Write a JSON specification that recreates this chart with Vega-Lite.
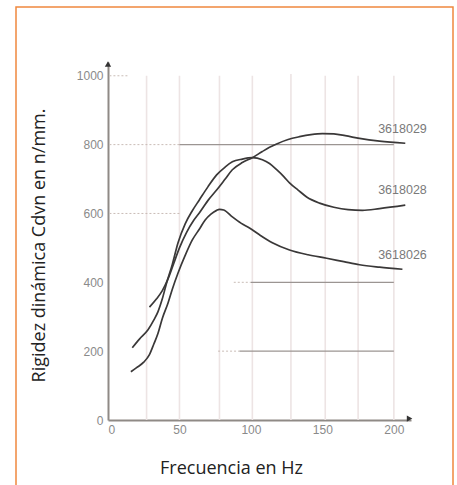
{
  "$schema": "https://vega.github.io/schema/vega-lite/v6.json",
  "width": 437,
  "height": 493,
  "autosize": {"type": "none"},
  "padding": {"left": 16, "top": 7, "right": 4, "bottom": 0},
  "background": "white",
  "config": {
    "view": {"stroke": "#f0883e", "strokeWidth": 1.5},
    "axis": {
      "grid": false,
      "ticks": false,
      "domainColor": "#8f8a86",
      "domainWidth": 2,
      "labelColor": "#8a8a8a",
      "labelFont": "Liberation Sans",
      "labelFontSize": 12,
      "titleFont": "Open Sans",
      "titleFontSize": 18,
      "titleFontWeight": "normal",
      "titleColor": "#222222"
    }
  },
  "datasets": {
    "curves": [
      {"serie": "3618026", "x": 16, "y": 140}, {"serie": "3618026", "x": 20, "y": 152}, {"serie": "3618026", "x": 25, "y": 168}, {"serie": "3618026", "x": 29, "y": 190}, {"serie": "3618026", "x": 32, "y": 220}, {"serie": "3618026", "x": 35, "y": 252}, {"serie": "3618026", "x": 38, "y": 295}, {"serie": "3618026", "x": 42, "y": 340}, {"serie": "3618026", "x": 45, "y": 380}, {"serie": "3618026", "x": 49, "y": 427}, {"serie": "3618026", "x": 54, "y": 478}, {"serie": "3618026", "x": 59, "y": 523}, {"serie": "3618026", "x": 64, "y": 555}, {"serie": "3618026", "x": 68, "y": 581}, {"serie": "3618026", "x": 72, "y": 598}, {"serie": "3618026", "x": 76, "y": 609}, {"serie": "3618026", "x": 78, "y": 612}, {"serie": "3618026", "x": 81, "y": 610}, {"serie": "3618026", "x": 87, "y": 590}, {"serie": "3618026", "x": 93, "y": 572}, {"serie": "3618026", "x": 99, "y": 558}, {"serie": "3618026", "x": 106, "y": 538}, {"serie": "3618026", "x": 115, "y": 515}, {"serie": "3618026", "x": 127, "y": 494}, {"serie": "3618026", "x": 140, "y": 480}, {"serie": "3618026", "x": 153, "y": 470}, {"serie": "3618026", "x": 165, "y": 460}, {"serie": "3618026", "x": 176, "y": 451}, {"serie": "3618026", "x": 190, "y": 444}, {"serie": "3618026", "x": 206, "y": 438},
      {"serie": "3618028", "x": 17, "y": 210}, {"serie": "3618028", "x": 22, "y": 235}, {"serie": "3618028", "x": 28, "y": 262}, {"serie": "3618028", "x": 32, "y": 290}, {"serie": "3618028", "x": 35, "y": 315}, {"serie": "3618028", "x": 38, "y": 352}, {"serie": "3618028", "x": 41, "y": 398}, {"serie": "3618028", "x": 45, "y": 452}, {"serie": "3618028", "x": 49, "y": 515}, {"serie": "3618028", "x": 54, "y": 570}, {"serie": "3618028", "x": 59, "y": 608}, {"serie": "3618028", "x": 64, "y": 640}, {"serie": "3618028", "x": 70, "y": 678}, {"serie": "3618028", "x": 76, "y": 712}, {"serie": "3618028", "x": 82, "y": 735}, {"serie": "3618028", "x": 87, "y": 750}, {"serie": "3618028", "x": 94, "y": 758}, {"serie": "3618028", "x": 101, "y": 762}, {"serie": "3618028", "x": 108, "y": 756}, {"serie": "3618028", "x": 113, "y": 745}, {"serie": "3618028", "x": 118, "y": 727}, {"serie": "3618028", "x": 123, "y": 707}, {"serie": "3618028", "x": 127, "y": 689}, {"serie": "3618028", "x": 133, "y": 668}, {"serie": "3618028", "x": 139, "y": 648}, {"serie": "3618028", "x": 148, "y": 630}, {"serie": "3618028", "x": 158, "y": 618}, {"serie": "3618028", "x": 168, "y": 611}, {"serie": "3618028", "x": 178, "y": 609}, {"serie": "3618028", "x": 190, "y": 614}, {"serie": "3618028", "x": 208, "y": 624},
      {"serie": "3618029", "x": 29, "y": 328}, {"serie": "3618029", "x": 34, "y": 352}, {"serie": "3618029", "x": 38, "y": 376}, {"serie": "3618029", "x": 42, "y": 410}, {"serie": "3618029", "x": 46, "y": 455}, {"serie": "3618029", "x": 50, "y": 500}, {"serie": "3618029", "x": 55, "y": 545}, {"serie": "3618029", "x": 60, "y": 580}, {"serie": "3618029", "x": 64, "y": 602}, {"serie": "3618029", "x": 70, "y": 638}, {"serie": "3618029", "x": 76, "y": 668}, {"serie": "3618029", "x": 82, "y": 700}, {"serie": "3618029", "x": 87, "y": 727}, {"serie": "3618029", "x": 94, "y": 748}, {"serie": "3618029", "x": 101, "y": 762}, {"serie": "3618029", "x": 108, "y": 780}, {"serie": "3618029", "x": 113, "y": 792}, {"serie": "3618029", "x": 118, "y": 802}, {"serie": "3618029", "x": 126, "y": 815}, {"serie": "3618029", "x": 134, "y": 823}, {"serie": "3618029", "x": 142, "y": 829}, {"serie": "3618029", "x": 150, "y": 832}, {"serie": "3618029", "x": 158, "y": 831}, {"serie": "3618029", "x": 166, "y": 826}, {"serie": "3618029", "x": 176, "y": 818}, {"serie": "3618029", "x": 190, "y": 810}, {"serie": "3618029", "x": 208, "y": 804}
    ],
    "vgrid": [
      {"x": 27, "y": 0, "y2": 1000}, {"x": 50, "y": 0, "y2": 1000}, {"x": 78, "y": 0, "y2": 1000}, {"x": 101, "y": 0, "y2": 1000},
      {"x": 128, "y": 0, "y2": 1005}, {"x": 152, "y": 0, "y2": 1000}, {"x": 175, "y": 0, "y2": 1000}, {"x": 200, "y": 0, "y2": 1000}
    ],
    "dotted": [
      {"x": 1, "x2": 15, "y": 1000}, {"x": 1, "x2": 50, "y": 800}, {"x": 1, "x2": 50, "y": 600},
      {"x": 88, "x2": 100, "y": 400}, {"x": 77, "x2": 92, "y": 200}
    ],
    "solid": [
      {"x": 50, "x2": 200, "y": 800}, {"x": 100, "x2": 200, "y": 400}, {"x": 92, "x2": 200, "y": 200}
    ],
    "labels": [
      {"x": 189, "y": 846, "serie": "3618029"}, {"x": 189, "y": 669, "serie": "3618028"}, {"x": 189, "y": 480, "serie": "3618026"}
    ],
    "arrows": [
      {"x": 0, "y": 1034, "dir": "up"}, {"x": 211, "y": 4, "dir": "right"}
    ]
  },
  "layer": [
    {
      "data": {"name": "vgrid"},
      "mark": {"type": "rule", "color": "#ede4e4", "strokeWidth": 1.6},
      "encoding": {
        "x": {
          "field": "x", "type": "quantitative",
          "scale": {"domain": [0, 212], "range": [92, 395], "nice": false, "zero": false},
          "axis": {"title": "Frecuencia en Hz", "format": "d", "values": [0, 50, 100, 150, 200], "offset": -80, "labelPadding": 4, "titleX": 215, "titleY": 53, "titleBaseline": "alphabetic"}
        },
        "y": {
          "field": "y", "type": "quantitative",
          "scale": {"domain": [0, 1040], "range": [413, 55], "nice": false, "zero": false},
          "axis": {"title": "Rigidez dinámica Cdvn  en n/mm.", "format": "d", "values": [0, 200, 400, 600, 800, 1000], "offset": -92, "labelPadding": 5, "titleX": -69, "titleY": 238, "titleBaseline": "middle"}
        },
        "y2": {"field": "y2"}
      }
    },
    {
      "data": {"name": "dotted"},
      "mark": {"type": "rule", "color": "#c9bcb6", "strokeWidth": 1, "strokeDash": [2, 2]},
      "encoding": {
        "x": {"field": "x", "type": "quantitative"},
        "x2": {"field": "x2"},
        "y": {"field": "y", "type": "quantitative"}
      }
    },
    {
      "data": {"name": "solid"},
      "mark": {"type": "rule", "color": "#9b9592", "strokeWidth": 1.3},
      "encoding": {
        "x": {"field": "x", "type": "quantitative"},
        "x2": {"field": "x2"},
        "y": {"field": "y", "type": "quantitative"}
      }
    },
    {
      "data": {"name": "curves"},
      "mark": {"type": "line", "color": "#3a3838", "strokeWidth": 1.7, "interpolate": "monotone"},
      "encoding": {
        "x": {"field": "x", "type": "quantitative"},
        "y": {"field": "y", "type": "quantitative"},
        "detail": {"field": "serie"}
      }
    },
    {
      "data": {"name": "labels"},
      "mark": {"type": "text", "align": "left", "baseline": "middle", "color": "#7a7a7a", "font": "Liberation Sans", "fontSize": 12.5},
      "encoding": {
        "x": {"field": "x", "type": "quantitative"},
        "y": {"field": "y", "type": "quantitative"},
        "text": {"field": "serie"}
      }
    },
    {
      "data": {"name": "arrows"},
      "mark": {"type": "point", "filled": true, "color": "#333333", "size": 40, "opacity": 1},
      "encoding": {
        "x": {"field": "x", "type": "quantitative"},
        "y": {"field": "y", "type": "quantitative"},
        "shape": {"field": "dir", "type": "nominal", "scale": {"domain": ["up", "right"], "range": ["triangle-up", "triangle-right"]}, "legend": null}
      }
    }
  ]
}
